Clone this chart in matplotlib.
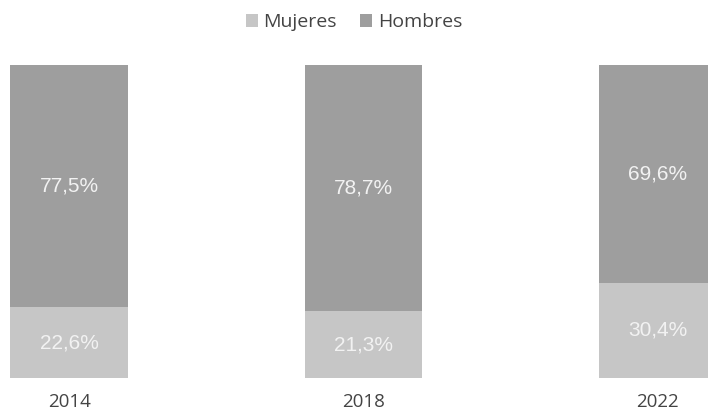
import matplotlib
matplotlib.use("Agg")
import matplotlib.pyplot as plt
import numpy as np

years = ["2014", "2018", "2022"]
mujeres = [22.6, 21.3, 30.4]
hombres = [77.5, 78.7, 69.6]
mujeres_lbl = ["22,6%", "21,3%", "30,4%"]
hombres_lbl = ["77,5%", "78,7%", "69,6%"]

plt.rcParams['font.family'] = ['Open Sans', 'DejaVu Sans']

fig = plt.figure(figsize=(7.08, 4.2), dpi=100)
ax = fig.add_axes([0, 0.1, 1, 0.745])

x = np.arange(len(years))
c_muj = '#c6c6c6'
c_hom = '#9e9e9e'
b1 = ax.bar(x, mujeres, width=0.40, color=c_muj, label='Mujeres')
b2 = ax.bar(x, hombres, width=0.40, bottom=mujeres, color=c_hom, label='Hombres')

# etiquetas dentro de las barras
for i in range(len(x)):
    ax.text(x[i], mujeres[i] / 2, mujeres_lbl[i], ha='center', va='center',
            color='#f2f2f2', fontsize=15, family='Liberation Sans')
    ax.text(x[i], mujeres[i] + hombres[i] / 2, hombres_lbl[i], ha='center', va='center',
            color='#f2f2f2', fontsize=15, family='Liberation Sans')

ax.set_xlim(-69 / 293, 2 + 50 / 293)
ax.set_ylim(0, 100.1)
ax.set_xticks(x)
ax.set_xticklabels(years, fontsize=13.5, color='#444444')
ax.tick_params(axis='x', length=0, pad=11)
ax.set_yticks([])
for s in ax.spines.values():
    s.set_visible(False)

fig.legend(handles=[b1, b2], loc='upper center', bbox_to_anchor=(0.5, 1.01), ncol=2,
           frameon=False, fontsize=14, handlelength=0.6, handleheight=0.6,
           handletextpad=0.3, columnspacing=1.2, labelcolor='#444444')

fig.savefig("out.png", dpi=100, facecolor='white')
